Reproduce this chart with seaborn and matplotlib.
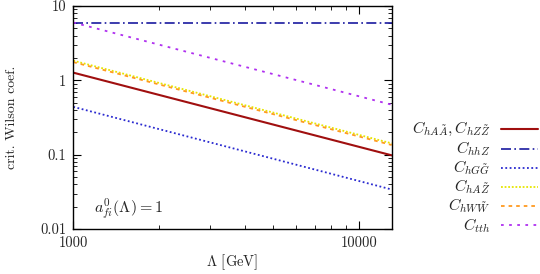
import numpy as np
import pandas as pd
import matplotlib
matplotlib.use("Agg")
import matplotlib.pyplot as plt
import seaborn as sns
from matplotlib.lines import Line2D
from matplotlib.ticker import FixedLocator, FixedFormatter, NullFormatter, LogLocator

# ---- data ----
lam = [1000, 13000]
c_aa_zz = [1.27, 0.098]
c_hhz = [5.9, 5.9]
c_hgg = [0.44, 0.034]
c_haz = [1.84, 0.142]
c_hww = [1.76, 0.135]
c_tth = [6.0, 0.47]

labels = [r'$C_{hA\tilde{A}}, C_{hZ\tilde{Z}}$', r'$C_{hhZ}$', r'$C_{hG\tilde{G}}$',
          r'$C_{hA\tilde{Z}}$', r'$C_{hW\tilde{W}}$', r'$C_{tth}$']
series = [c_aa_zz, c_hhz, c_hgg, c_haz, c_hww, c_tth]
colors = ['#a00f0f', '#1a1aa0', '#2a2ad0', '#e6e600', '#ff9a20', '#b030f0']
dashes = ["", (6, 2, 1, 2), (1, 1.4), (1, 1), (2, 2.2), (1.5, 3)]
widths = [1.5, 1.2, 1.3, 1.3, 1.3, 1.3]

xticks = [1000, 10000]
xticklabels = ['1000', '10000']
yticks = [0.01, 0.1, 1, 10]
yticklabels = ['0.01', '0.1', '1', '10']

rows = []
for lab, vals in zip(labels, series):
    for x, v in zip(lam, vals):
        rows.append({'Lambda': x, 'value': v, 'coef': lab})
df = pd.DataFrame(rows)

sns.set_style('ticks')
plt.rcParams['font.family'] = ['cmr10', 'DejaVu Serif']
plt.rcParams['mathtext.fontset'] = 'cm'
plt.rcParams['axes.formatter.use_mathtext'] = True

fig = plt.figure(figsize=(5.4, 2.74), dpi=100)
ax = fig.add_axes([0.1357, 0.1642, 0.7254 - 0.1357, 0.978 - 0.1642])

sns.lineplot(data=df, x='Lambda', y='value', hue='coef', style='coef',
             hue_order=labels, style_order=labels,
             palette=dict(zip(labels, colors)), dashes=dict(zip(labels, dashes)),
             ax=ax, legend=False)
for line, lw in zip(ax.get_lines(), widths):
    line.set_linewidth(lw)

ax.set_xscale('log')
ax.set_yscale('log')
ax.set_xlim(1000, 13000)
ax.set_ylim(0.01, 10)

ax.xaxis.set_major_locator(FixedLocator(xticks))
ax.xaxis.set_major_formatter(FixedFormatter(xticklabels))
ax.xaxis.set_minor_locator(LogLocator(base=10, subs=np.arange(2, 10)))
ax.xaxis.set_minor_formatter(NullFormatter())
ax.yaxis.set_major_locator(FixedLocator(yticks))
ax.yaxis.set_major_formatter(FixedFormatter(yticklabels))
ax.yaxis.set_minor_locator(LogLocator(base=10, subs=np.arange(2, 10)))
ax.yaxis.set_minor_formatter(NullFormatter())

ax.tick_params(which='both', direction='in', top=True, right=True, color='black')
ax.tick_params(which='major', length=6, width=0.8, labelsize=10.5, pad=5)
ax.tick_params(which='minor', length=3, width=0.6)
for s in ax.spines.values():
    s.set_visible(True)
    s.set_color('black')
    s.set_linewidth(1.0)

ax.set_xlabel(r'$\Lambda$ [GeV]', fontsize=10.5, labelpad=2)
ax.set_ylabel('crit. Wilson coef.', fontsize=10, labelpad=16)

ax.text(0.065, 0.09, r'$a^{0}_{fi}(\Lambda) = 1$', transform=ax.transAxes,
        fontsize=11.5, ha='left', va='center')

# manual gnuplot-style legend outside at right
y0 = 0.447
dy = 0.0861
for i, (lab, col, d, lw) in enumerate(zip(labels, colors, dashes, widths)):
    yy = y0 - i * dy
    ax.text(1.309, yy, lab, transform=ax.transAxes, ha='right', va='center',
            fontsize=11.5)
    ln = Line2D([1.342, 1.4595], [yy, yy], transform=ax.transAxes, color=col,
                lw=lw, clip_on=False)
    if d:
        ln.set_dashes(d)
    ax.add_line(ln)

fig.savefig('out.png', dpi=100)
